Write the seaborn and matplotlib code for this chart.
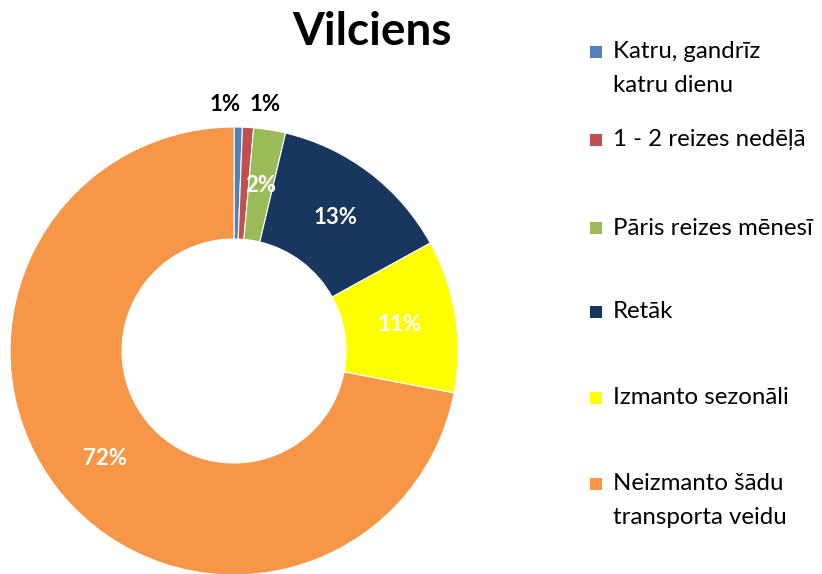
import matplotlib
matplotlib.use("Agg")
import matplotlib.pyplot as plt
import seaborn as sns
import numpy as np
from matplotlib.patches import Rectangle

sns.set_theme(style="white")
plt.rcParams['font.family'] = ['Lato', 'DejaVu Sans']

# data
categories = ["Katru, gandrīz\nkatru dienu", "1 - 2 reizes nedēļā", "Pāris reizes mēnesī",
              "Retāk", "Izmanto sezonāli", "Neizmanto šādu\ntransporta veidu"]
values = [0.6, 0.8, 2.3, 13.3, 11.0, 72.0]
colors = ["#4F81BD", "#C0504D", "#9BBB59", "#17375E", "#FFFF00", "#F79646"]

fig = plt.figure(figsize=(8.22, 5.74), dpi=100)
W, H = 822, 574
cx, cy, r = 234, 351, 224
ax = fig.add_axes([(cx - r) / W, (H - cy - r) / H, 2 * r / W, 2 * r / H])

wedges, _ = ax.pie(values, colors=colors, startangle=90, counterclock=False,
                   radius=1, wedgeprops=dict(width=0.5, edgecolor="white", linewidth=0.8))
ax.set_xlim(-1, 1)
ax.set_ylim(-1, 1)
ax.set_aspect("equal")
ax.axis("off")

# percentage labels
total = sum(values)
for i, (w, v) in enumerate(zip(wedges, values)):
    txt = f"{round(v / total * 100):.0f}%"
    ang = np.deg2rad((w.theta1 + w.theta2) / 2)
    if i < 2:
        # tiny slices: labels side by side above the ring
        x0 = 0.05
        ax.text(x0 - 0.02 if i == 0 else x0 + 0.02, 1.10, txt,
                ha="right" if i == 0 else "left", va="center",
                fontsize=16, fontweight="bold", color="black", clip_on=False)
    else:
        ax.text(0.75 * np.cos(ang), 0.75 * np.sin(ang), txt, ha="center", va="center",
                fontsize=16, fontweight="bold", color="white")

fig.text(372 / W, 1 - 32 / H, "Vilciens", ha="center", va="center",
         fontsize=33, fontweight="bold", color="black")

# legend drawn by hand to keep Excel-like first-line alignment
leg_y = [52, 140, 228, 312, 398, 484]
for lab, col, y in zip(categories, colors, leg_y):
    fig.patches.append(Rectangle((590 / W, 1 - (y + 6) / H), 12 / W, 12 / H,
                                 transform=fig.transFigure, facecolor=col, edgecolor="none"))
    for k, line in enumerate(lab.split("\n")):
        fig.text(613 / W, 1 - (y + 33 * k) / H, line, ha="left", va="center",
                 fontsize=17.3, color="black")

fig.savefig("out.png", dpi=100, facecolor="white")
